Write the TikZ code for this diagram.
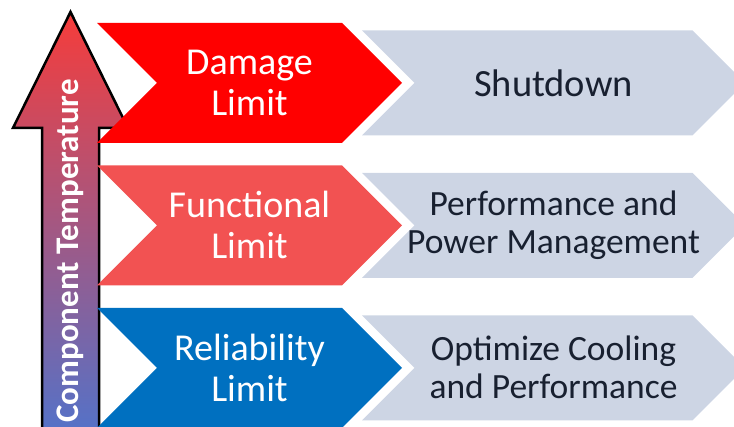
\documentclass[tikz,border=0pt]{standalone}
\usepackage{fontspec}
\setmainfont{Carlito}
\usepackage{xcolor}
\usepackage{tikz}
\usetikzlibrary{positioning,shapes.symbols}

\definecolor{dmgred}{RGB}{255,0,0}
\definecolor{funred}{RGB}{242,82,82}
\definecolor{relblue}{RGB}{0,112,192}
\definecolor{actgray}{RGB}{205,213,228}
\definecolor{actext}{RGB}{24,32,48}
\definecolor{temptop}{RGB}{246,60,58}
\definecolor{tempmid}{RGB}{214,74,112}
\definecolor{tempbot}{RGB}{84,114,200}

\tikzset{
  limit/.style={signal, signal from=west, signal to=east, signal pointer angle=90,
    minimum width=305pt, minimum height=120pt, inner sep=0pt, text=white, align=center,
    font=\fontsize{38}{41}\selectfont},
  action/.style={signal, signal from=west, signal to=east, signal pointer angle=90,
    fill=actgray, minimum width=383pt, minimum height=105pt, inner ysep=0pt, inner xsep=-40pt,
    text=actext, align=center, font=\fontsize{35.5}{38}\selectfont},
  tempbar/.style={line width=2.5pt, draw=black, line join=miter,
    top color=temptop, middle color=tempmid, bottom color=tempbot}
}

\begin{document}
\begin{tikzpicture}[x=1pt, y=1pt]
\useasboundingbox (0,0) rectangle (734,427);
\clip (0,0) rectangle (734,427);
% temperature arrow
\shadedraw[tempbar] (42,-5) -- (42,299) -- (13,299) -- (70.5,415) -- (128,299) -- (99,299) -- (99,-5) -- cycle;
\node[rotate=90, text=white, font=\bfseries\fontsize{33}{33}\selectfont] (temp) at (70.5,176) {Component Temperature};
% limits
\node[limit, fill=dmgred] (damage) at (249.5,344) {Damage\\Limit};
\node[limit, fill=funred, below=22pt of damage] (functional) {Functional\\Limit};
\node[limit, fill=relblue, below=22pt of functional] (reliability) {Reliability\\Limit};
% actions
\node[action, font=\fontsize{38.5}{41}\selectfont] (shutdown) at ([xshift=304pt]damage.center) {Shutdown};
\node[action] (power) at ([xshift=304pt]functional.center) {Performance and\\Power Management};
\node[action] (cooling) at ([xshift=304pt]reliability.center) {Optimize Cooling\\and Performance};
\end{tikzpicture}
\end{document}
